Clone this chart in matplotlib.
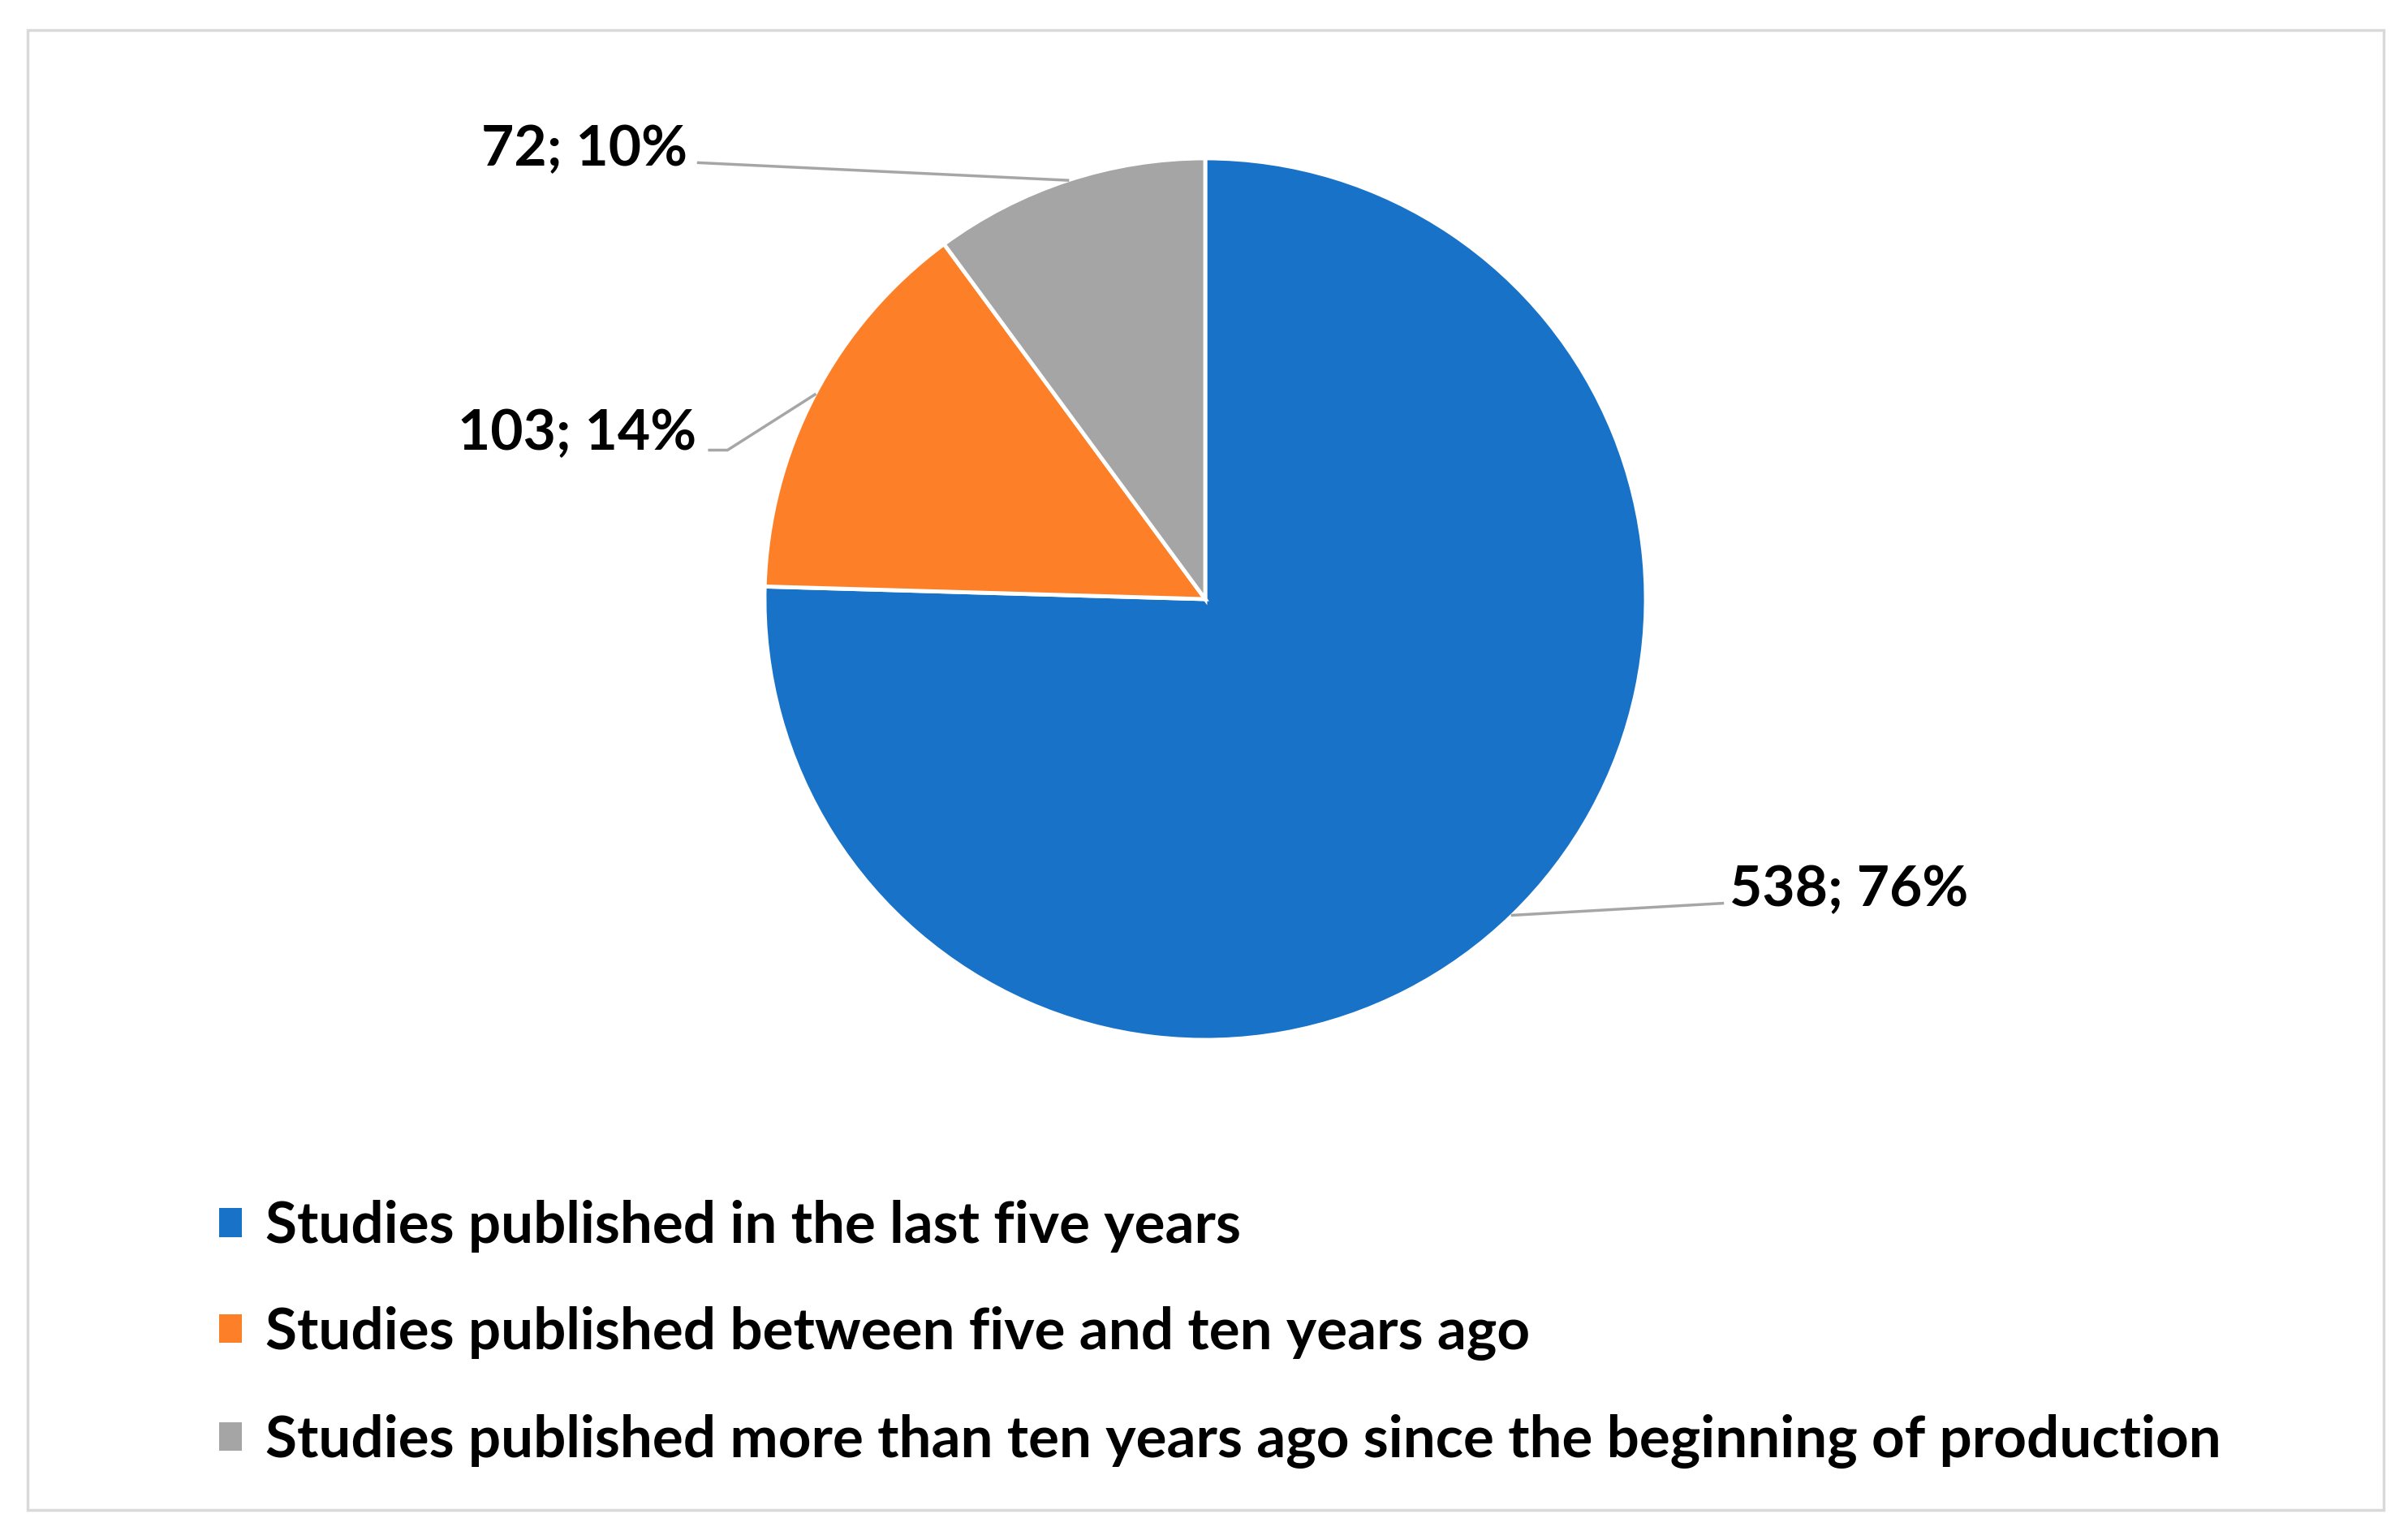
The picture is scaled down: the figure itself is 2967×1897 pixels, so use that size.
import matplotlib
matplotlib.use("Agg")
import matplotlib.pyplot as plt
from matplotlib.patches import Rectangle, Patch
import numpy as np

plt.rcParams['font.family'] = ['Lato', 'DejaVu Sans']
plt.rcParams['font.weight'] = 'bold'

categories = ['Studies published in the last five years',
              'Studies published between five and ten years ago',
              'Studies published more than ten years ago since the beginning of production']
counts = [538, 103, 72]
percents = [76, 14, 10]
colors = ['#1772C8', '#FD7F27', '#A5A5A5']

# where the label text sits (data units, pie radius = 1) and its alignment
label_pos = [(1.19, -0.66), (-1.155, 0.375), (-1.175, 1.02)]
label_ha = ['left', 'right', 'right']
# leader line ends (elbow for the orange one)
line_ends = [[(1.174, -0.690)],
             [(-1.084, 0.338), (-1.125, 0.338)],
             [(-1.150, 0.990)]]

W, H = 2967, 1897
fig = plt.figure(figsize=(W / 100, H / 100), dpi=100)
fig.patch.set_facecolor('white')

# outer frame
fig.patches.append(Rectangle((34 / W, 37 / H), (2937 - 34) / W, (1860 - 37) / H,
                             transform=fig.transFigure, fill=False,
                             edgecolor='#D9D9D9', linewidth=2.5))

cx, cy, r = 1485, 738, 543
ax = fig.add_axes([(cx - r) / W, (H - cy - r) / H, 2 * r / W, 2 * r / H])
wedges, _ = ax.pie(counts, colors=colors, startangle=90, counterclock=False,
                   radius=1, wedgeprops=dict(edgecolor='white', linewidth=3.5))
ax.set_xlim(-1, 1)
ax.set_ylim(-1, 1)
ax.set_axis_off()

for w, c, p, pos, ha, ends in zip(wedges, counts, percents, label_pos, label_ha, line_ends):
    mid = np.deg2rad((w.theta1 + w.theta2) / 2)
    xs = [np.cos(mid)] + [e[0] for e in ends]
    ys = [np.sin(mid)] + [e[1] for e in ends]
    ax.plot(xs, ys, color='#A6A6A6', linewidth=2.5, clip_on=False)
    ax.text(pos[0], pos[1], f'{c}; {p}%', ha=ha, va='center',
            fontsize=50, fontweight='bold', clip_on=False)

handles = [Patch(facecolor=col, edgecolor='none') for col in colors]
fig.legend(handles, categories, loc='upper left',
           bbox_to_anchor=(270 / W, 1 - 1478 / H), frameon=False,
           fontsize=51, handlelength=0.4, handleheight=0.4,
           handletextpad=0.4, labelspacing=0.93, borderpad=0, borderaxespad=0)

fig.savefig('out.png', dpi=100, facecolor='white')
